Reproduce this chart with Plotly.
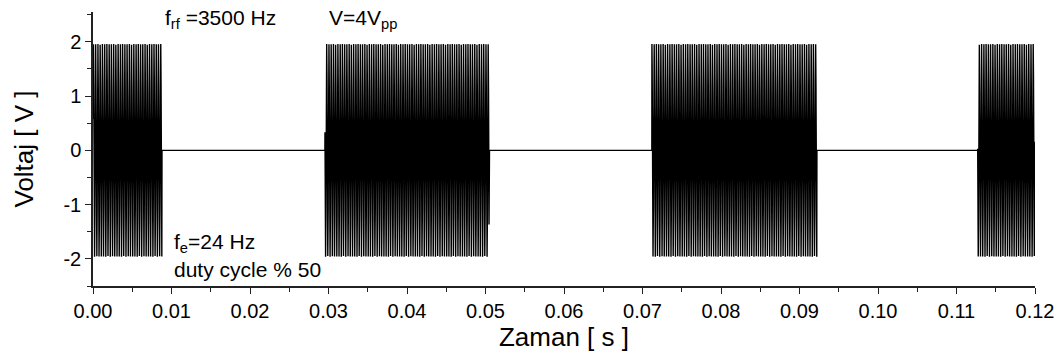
import numpy as np
import plotly.graph_objects as go

# --- values ---
carrier_hz = 3500.0          # f_rf
amplitude_v = 1.96           # burst peak (4 Vpp nominal)
burst_start_s = [0.0, 0.02955, 0.0712, 0.1127]
burst_end_s = [0.00879, 0.05045, 0.0922, 0.1200]
sample_rate_hz = 100000.0
t_end_s = 0.12

x_ticks = [0.00, 0.01, 0.02, 0.03, 0.04, 0.05, 0.06, 0.07, 0.08, 0.09, 0.10, 0.11, 0.12]
y_ticks = [-2, -1, 0, 1, 2]

# --- build the recorded waveform ---
t = np.arange(0, t_end_s + 1 / sample_rate_hz, 1 / sample_rate_hz)
gate = np.zeros_like(t)
for s, e in zip(burst_start_s, burst_end_s):
    gate[(t >= s) & (t <= e)] = 1.0
v = gate * amplitude_v * np.sin(2 * np.pi * carrier_hz * t + 0.3)

fig = go.Figure()
fig.add_trace(go.Scatter(x=t, y=v, mode="lines",
                         line=dict(color="black", width=1.4),
                         showlegend=False, hoverinfo="skip"))

font = "Liberation Sans, Arial, sans-serif"
ann = dict(xref="x", yref="y", xanchor="left", yanchor="middle", showarrow=False,
           font=dict(family=font, size=21, color="black"))
fig.add_annotation(x=0.0089, y=2.42, text="f<sub>rf</sub> =3500 Hz", **ann)
fig.add_annotation(x=0.0298, y=2.42, text="V=4V<sub>pp</sub>", **ann)
fig.add_annotation(x=0.0100, y=-1.70, text="f<sub>e</sub>=24 Hz", **ann)
fig.add_annotation(x=0.0100, y=-2.20, text="duty cycle % 50", **ann)

axis_common = dict(showline=True, linecolor="#222", linewidth=1.5, ticks="outside",
                   ticklen=6, tickwidth=1.2, tickcolor="#222", showgrid=False,
                   zeroline=False, mirror=False,
                   tickfont=dict(family=font, size=20, color="black"))

fig.update_xaxes(range=[0, 0.12], tickvals=x_ticks,
                 ticktext=[f"{v:.2f}" for v in x_ticks],
                 minor=dict(ticks="outside", ticklen=4, tickwidth=1.2, tickcolor="#222", dtick=0.005),
                 title=dict(text="Zaman [ s ]", font=dict(family=font, size=26, color="black"), standoff=6),
                 **axis_common)
fig.update_yaxes(range=[-2.5, 2.55], tickvals=y_ticks,
                 ticktext=[str(v) for v in y_ticks],
                 minor=dict(ticks="outside", ticklen=4, tickwidth=1.2, tickcolor="#222", dtick=0.5),
                 title=dict(text="Voltaj [ V ]", font=dict(family=font, size=26, color="black"), standoff=22),
                 **axis_common)

fig.update_layout(width=1062, height=354, plot_bgcolor="white", paper_bgcolor="white",
                  margin=dict(l=93, r=27, t=12, b=68, autoexpand=False))

fig.write_html("out.html", config={"displayModeBar": False},
               post_script="document.body.style.margin='0';document.body.style.overflow='hidden';")
